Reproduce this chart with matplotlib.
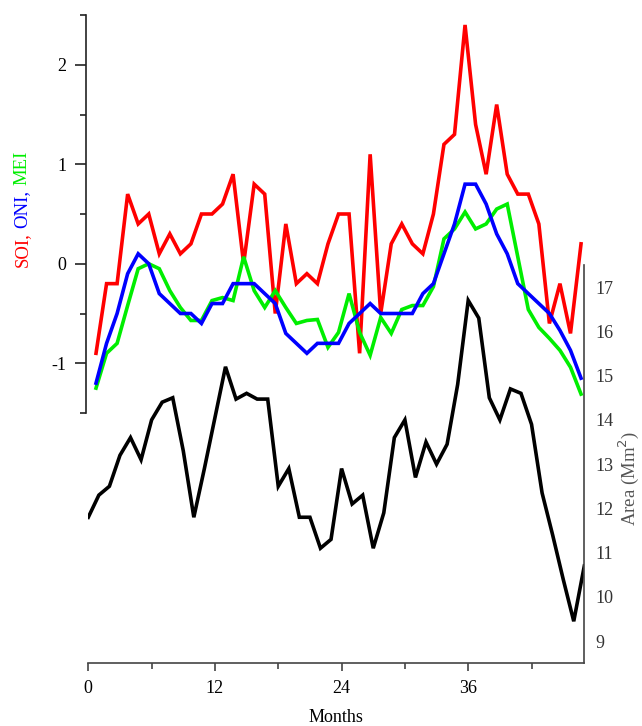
import numpy as np
import matplotlib
matplotlib.use("Agg")
from matplotlib import pyplot as plt
from matplotlib.ticker import MultipleLocator, FuncFormatter

plt.rcParams['font.family'] = ['Liberation Serif', 'DejaVu Serif']
plt.rcParams['axes.unicode_minus'] = False

# indices (upper panel), months 1..47
idx_months = np.arange(1, 48)
soi = [-0.9, -0.2, -0.2, 0.7, 0.4, 0.5, 0.1, 0.3, 0.1, 0.2,
       0.5, 0.5, 0.6, 0.9, 0.0, 0.8, 0.7, -0.5, 0.4, -0.2,
       -0.1, -0.2, 0.2, 0.5, 0.5, -0.9, 1.1, -0.5, 0.2, 0.4,
       0.2, 0.1, 0.5, 1.2, 1.3, 2.4, 1.4, 0.9, 1.6, 0.9,
       0.7, 0.7, 0.4, -0.6, -0.2, -0.7, 0.2]
oni = [-1.2, -0.8, -0.5, -0.1, 0.1, 0.0, -0.3, -0.4, -0.5, -0.5,
       -0.6, -0.4, -0.4, -0.2, -0.2, -0.2, -0.3, -0.4, -0.7, -0.8,
       -0.9, -0.8, -0.8, -0.8, -0.6, -0.5, -0.4, -0.5, -0.5, -0.5,
       -0.5, -0.3, -0.2, 0.1, 0.4, 0.8, 0.8, 0.6, 0.3, 0.1,
       -0.2, -0.3, -0.4, -0.5, -0.67, -0.87, -1.15]
mei = [-1.25, -0.9, -0.8, -0.42, -0.05, 0.0, -0.05, -0.27, -0.44, -0.57,
       -0.57, -0.37, -0.34, -0.37, 0.07, -0.27, -0.44, -0.27, -0.44, -0.6,
       -0.57, -0.56, -0.84, -0.69, -0.3, -0.69, -0.92, -0.54, -0.7, -0.46,
       -0.42, -0.42, -0.23, 0.25, 0.35, 0.52, 0.35, 0.4, 0.55, 0.6,
       0.07, -0.46, -0.64, -0.75, -0.87, -1.04, -1.31]

# area (lower panel), months 0..47
area_months = np.arange(0, 48)
area = [11.8, 12.3, 12.5, 13.2, 13.6, 13.1, 14.0, 14.4, 14.5, 13.3,
        11.8, 12.9, 14.05, 15.2, 14.47, 14.6, 14.47, 14.47, 12.5, 12.9,
        11.8, 11.8, 11.1, 11.3, 12.9, 12.1, 12.3, 11.1, 11.9, 13.6,
        14.0, 12.7, 13.5, 13.0, 13.45, 14.8, 16.7, 16.3, 14.5, 14.0,
        14.7, 14.6, 13.9, 12.35, 11.4, 10.4, 9.45, 10.7]

W, H = 642, 726
fig = plt.figure(figsize=(W / 100, H / 100), dpi=100)

def px_box(x0, y0, x1, y1):
    return [x0 / W, (H - y1) / H, (x1 - x0) / W, (y1 - y0) / H]

lw = 2.6
gray = '#444444'

# lower layer: area
ax2 = fig.add_axes(px_box(88.3, 265, 584.3, 663.3))
ax2.patch.set_alpha(0)
ax2.plot(area_months, area, color='black', lw=lw, solid_joinstyle='miter')
ax2.set_xlim(0, 47)
ax2.set_ylim(8.5, 17.5)
for s in ['left', 'top']:
    ax2.spines[s].set_visible(False)
for s in ['right', 'bottom']:
    ax2.spines[s].set_color(gray)
    ax2.spines[s].set_linewidth(1.2)
ax2.yaxis.tick_right()
ax2.yaxis.set_major_locator(MultipleLocator(1))
ax2.tick_params(axis='y', which='both', length=0, pad=8, labelsize=13, labelcolor='#333333')
ax2.xaxis.set_major_locator(MultipleLocator(12))
ax2.xaxis.set_minor_locator(MultipleLocator(6))
ax2.tick_params(axis='x', which='major', length=6, width=1.2, color=gray, labelsize=13, pad=6)
ax2.tick_params(axis='x', which='minor', length=4, width=1.2, color=gray)
ax2.set_yticks(range(9, 18))

# upper layer: indices
ax1 = fig.add_axes(px_box(86, 15, 584.3, 413))
ax1.patch.set_alpha(0)
ax1.plot(idx_months, soi, color='#ff0000', lw=lw, solid_joinstyle='miter')
ax1.plot(idx_months, mei, color='#00ee00', lw=lw, solid_joinstyle='miter')
ax1.plot(idx_months, oni, color='#0000ff', lw=lw, solid_joinstyle='miter')
ax1.set_xlim(0.05, 47.31)
ax1.set_ylim(-1.5, 2.5)
for s in ['right', 'top', 'bottom']:
    ax1.spines[s].set_visible(False)
ax1.spines['left'].set_linewidth(1.2)
ax1.spines['left'].set_color('#222222')
ax1.set_xticks([])
ax1.yaxis.set_major_locator(MultipleLocator(1))
ax1.yaxis.set_minor_locator(MultipleLocator(0.5))
ax1.yaxis.set_major_formatter(FuncFormatter(lambda v, p: '%d' % round(v)))
ax1.tick_params(axis='y', which='major', length=8, width=1.2, color='#222222', labelsize=13, pad=6)
ax1.tick_params(axis='y', which='minor', length=4, width=1.2, color='#222222')
ax1.set_yticks([-1, 0, 1, 2])

# axis titles
fig.text(336 / W, (H - 718) / H, 'Months', ha='center', va='center', fontsize=13)
fig.text(629 / W, (H - 478) / H, 'Area (Mm$^2$)', rotation=90, ha='center', va='center',
         fontsize=13.5, color='#555555')

# multi-coloured left label, written bottom to top
fig.canvas.draw()
renderer = fig.canvas.get_renderer()
y = (H - 267) / H
for part, col in [('SOI,', '#ff0000'), ('ONI,', '#0000ff'), ('MEI', '#00ee00')]:
    t = fig.text(22 / W, y, part, rotation=90, ha='center', va='bottom', fontsize=13.5, color=col)
    bb = t.get_window_extent(renderer)
    y = (bb.y1 + 4.5) / H

fig.savefig('out.png', dpi=100)
